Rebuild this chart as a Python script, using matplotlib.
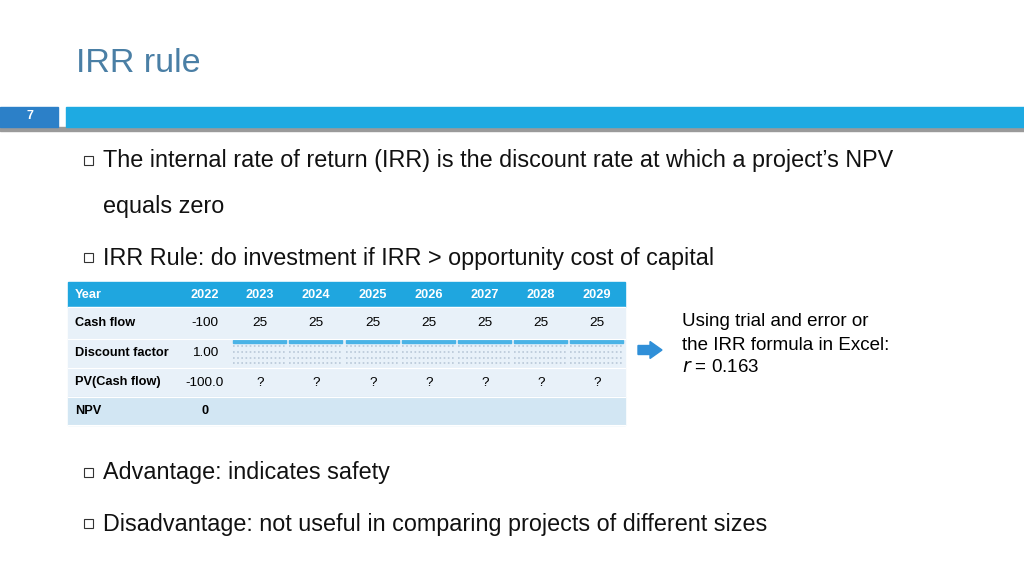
import matplotlib
matplotlib.use("Agg")
import matplotlib.pyplot as plt
from matplotlib.patches import Rectangle, FancyArrow

years = ["2022", "2023", "2024", "2025", "2026", "2027", "2028", "2029"]
cash_flow = ["-100", "25", "25", "25", "25", "25", "25", "25"]
discount = ["1.00"]
pv = ["-100.0", "?", "?", "?", "?", "?", "?", "?"]
npv = ["0"]
row_labels = ["Cash flow", "Discount factor", "PV(Cash flow)", "NPV"]

fig = plt.figure(figsize=(10.24, 5.75), dpi=100)
ax = fig.add_axes([0, 0, 1, 1])
ax.set_xlim(0, 1024); ax.set_ylim(575, 0); ax.axis("off")
F = ["Liberation Sans", "DejaVu Sans"]

ax.text(76, 63, "IRR rule", fontsize=24.5, color="#4a7fa5", va="center", family=F)
# header bar
ax.add_patch(Rectangle((0, 127), 1024, 4, color="#9a9a9a"))
ax.add_patch(Rectangle((0, 107), 58, 20, color="#2c80c8"))
ax.add_patch(Rectangle((66, 107), 958, 20, color="#1eaae2"))
ax.text(30, 116, "7", color="white", fontsize=9, weight="bold", ha="center", va="center", family=F)

def bullet(y, txt):
    ax.add_patch(Rectangle((84, y - 5), 9, 9, fill=False, ec="#333333", lw=0.8))
    ax.text(103, y, txt, fontsize=16.8, va="center", family=F, color="#111111")

bullet(161, "The internal rate of return (IRR) is the discount rate at which a project’s NPV")
ax.text(103, 206, "equals zero", fontsize=16.8, va="center", family=F, color="#111111")
bullet(258, "IRR Rule: do investment if IRR > opportunity cost of capital")
bullet(473, "Advantage: indicates safety")
bullet(524, "Disadvantage: not useful in comparing projects of different sizes")

# table
x0, x1 = 68, 625
rows = [(282, 307), (307, 339), (339, 368), (368, 397), (397, 425)]
colors = ["#1fa6df", "#e8f1f9", "#e8f1f9", "#e8f1f9", "#d2e6f3"]
for (ya, yb), c in zip(rows, colors):
    ax.add_patch(Rectangle((x0, ya), x1 - x0, yb - ya, color=c))
    ax.plot([x0, x1], [yb, yb], color="white", lw=0.8)
cx = [205, 260, 316, 373, 429, 485, 541, 597]
def mid(i): return (rows[i][0] + rows[i][1]) / 2
fs = 9.2
ax.text(75, mid(0), "Year", color="white", weight="bold", fontsize=fs, va="center", family=F)
for x, y in zip(cx, years):
    ax.text(x, mid(0), y, color="white", weight="bold", fontsize=fs, ha="center", va="center", family=F)
for i, lab in enumerate(row_labels):
    ax.text(75, mid(i + 1), lab, weight="bold", fontsize=fs, va="center", family=F)
for x, v in zip(cx, cash_flow):
    ax.text(x, mid(1), v, fontsize=fs + 0.5, ha="center", va="center", family=F)
ax.text(cx[0], mid(2), discount[0], fontsize=fs + 0.5, ha="center", va="center", family=F)
for x, v in zip(cx, pv):
    ax.text(x, mid(3), v, fontsize=fs + 0.5, ha="center", va="center", family=F)
ax.text(cx[0], mid(4), npv[0], fontsize=fs, weight="bold", ha="center", va="center", family=F)
# tiny nested tables in discount factor row
for x in cx[1:]:
    ax.add_patch(Rectangle((x - 27, 340), 53, 3, color="#4ab3e6"))
    for yy in (346, 352, 358, 363):
        ax.plot([x - 27, x + 26], [yy, yy], color="#b8c8d8", lw=1.2, ls=(0, (1, 1.5)))

ax.add_patch(FancyArrow(638, 350, 12, 0, width=9, head_width=17, head_length=12,
                        length_includes_head=False, color="#2f8fd8"))
for i, t in enumerate(["Using trial and error or", "the IRR formula in Excel:"]):
    ax.text(682, 322 + i * 23, t, fontsize=13.5, va="center", family=F)
ax.text(682, 368, "$r$ = 0.163", fontsize=13.5, va="center", family=F)

fig.savefig("out.png", dpi=100)
